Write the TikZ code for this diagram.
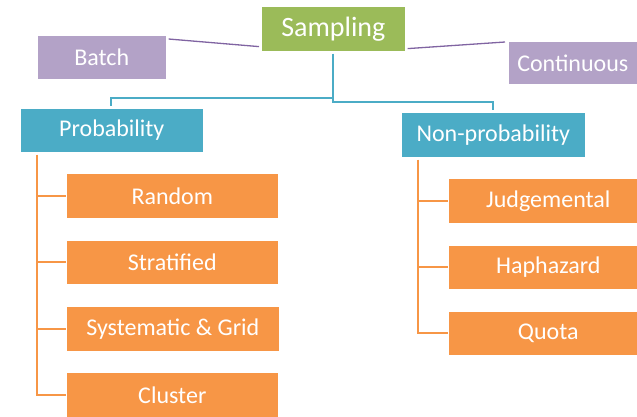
\documentclass[tikz,border=0pt]{standalone}
\usepackage{fontspec}
\setmainfont{Carlito}
\usetikzlibrary{calc}
\definecolor{topgreen}{HTML}{9BBB59}
\definecolor{modepurple}{HTML}{B3A2C7}
\definecolor{linepurple}{HTML}{8064A2}
\definecolor{classteal}{HTML}{4BACC6}
\definecolor{methodorange}{HTML}{F79646}
\tikzset{
  box/.style={rectangle, draw=white, line width=0.6pt, text=white, inner sep=0pt, anchor=north west},
  rootbox/.style={box, fill=topgreen, font=\fontsize{28}{30}\selectfont},
  modebox/.style={box, fill=modepurple, font=\fontsize{24}{26}\selectfont},
  classbox/.style={box, fill=classteal, font=\fontsize{24}{26}\selectfont},
  methodbox/.style={box, fill=methodorange, font=\fontsize{24}{26}\selectfont},
  purplelink/.style={draw=linepurple, line width=1.3pt},
  teallink/.style={draw=classteal, line width=1.8pt},
  orangelink/.style={draw=methodorange, line width=1.8pt},
}
\begin{document}
\begin{tikzpicture}[x=1pt,y=-1pt]
\useasboundingbox (0,0) rectangle (637,416);
\clip (0,0) rectangle (637,416);

% top level and the two sampling modes
\node[rootbox, minimum width=144pt, minimum height=45pt] (sampling) at (261,6) {Sampling};
\node[modebox, minimum width=129pt, minimum height=44pt] (batch) at (37,35) {Batch};
\node[modebox, minimum width=129pt, minimum height=43pt] (continuous) at (508,41) {Continuous};

% the two families of methods
\node[classbox, minimum width=183pt, minimum height=44pt] (prob) at (20,108) {Probability};
\node[classbox, minimum width=184pt, minimum height=45pt] (nonprob) at (401,112) {Non-probability};

% probability methods
\node[methodbox, minimum width=212pt, minimum height=45pt] (random) at (66,173) {Random};
\node[methodbox, minimum width=212pt, minimum height=44pt] (strat) at (66,240) {Stratified};
\node[methodbox, minimum width=213pt, minimum height=45pt] (syst) at (66,306) {Systematic \& Grid};
\node[methodbox, minimum width=212pt, minimum height=45pt] (cluster) at (66,372) {Cluster};

% non-probability methods
\node[methodbox, minimum width=200pt, minimum height=45pt] (judge) at (448,178) {Judgemental};
\node[methodbox, minimum width=200pt, minimum height=44pt] (hap) at (448,245) {Haphazard};
\node[methodbox, minimum width=200pt, minimum height=44pt] (quota) at (448,311) {Quota};

% mode links
\coordinate (bl) at ($(batch.north east)+(2,4)$);
\coordinate (sl) at ($(sampling.south west)+(-2,-5)$);
\coordinate (sr) at ($(sampling.south east)+(2,-3)$);
\coordinate (cr) at ($(continuous.north west)+(-3,1)$);
\draw[purplelink] (bl) -- (sl);
\draw[purplelink] (sr) -- (cr);

% tree links to the families
\coordinate (stem) at ($(sampling.south)+(0,2)$);
\coordinate (stemlow) at ($(sampling.south)+(0,50.5)$);
\coordinate (stemmid) at ($(sampling.south)+(0,46)$);
\draw[teallink] (stem) -- (stemlow) -| ($(nonprob.north west)+(92,-2)$);
\draw[teallink] (stemmid) -| ($(prob.north west)+(91,-2)$);

% left bracket
\coordinate (ptop) at ($(prob.south west)+(17,2)$);
\draw[orangelink] (ptop) |- (cluster.west);
\draw[orangelink] (ptop |- random.west) -- (random.west);
\draw[orangelink] (ptop |- strat.west) -- (strat.west);
\draw[orangelink] (ptop |- syst.west) -- (syst.west);

% right bracket
\coordinate (ntop) at ($(nonprob.south west)+(17,2)$);
\draw[orangelink] (ntop) |- (quota.west);
\draw[orangelink] (ntop |- judge.west) -- (judge.west);
\draw[orangelink] (ntop |- hap.west) -- (hap.west);
\end{tikzpicture}
\end{document}
